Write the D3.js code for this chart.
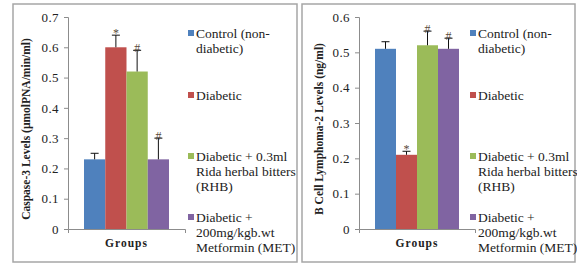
<!DOCTYPE html>
<html>
<head>
<meta charset="utf-8">
<script src="https://cdn.jsdelivr.net/npm/d3@7"></script>
<style>
  body { margin: 0; background: #fff; }
</style>
</head>
<body>
<div id="chart"></div>
<script>
const width = 577;
const height = 268;
const serif = "Liberation Serif";

// groups (legend entries, already wrapped the way the picture does it)
const groups = ["Control", "Diabetic", "RHB", "MET"];
const legendLines = [
  ["Control (non-", "diabetic)"],
  ["Diabetic"],
  ["Diabetic + 0.3ml", "Rida herbal bitters", "(RHB)"],
  ["Diabetic +", "200mg/kgb.wt", "Metformin (MET)"]
];
const colors = ["#4f81bd", "#c0504d", "#9bbb59", "#8064a2"];

// caspase-3
const caspase = [0.23, 0.60, 0.52, 0.23];
const caspaseErr = [0.02, 0.04, 0.07, 0.07];
const caspaseMark = ["", "*", "#", "#"];
const caspaseTicks = [0, 0.1, 0.2, 0.3, 0.4, 0.5, 0.6, 0.7];

// bcl-2
const bcl2 = [0.51, 0.21, 0.52, 0.51];
const bcl2Err = [0.02, 0.01, 0.04, 0.03];
const bcl2Mark = ["", "*", "#", "#"];
const bcl2Ticks = [0, 0.1, 0.2, 0.3, 0.4, 0.5, 0.6];

const svg = d3.select("#chart").append("svg")
  .attr("width", width)
  .attr("height", height)
  .attr("font-family", serif);

function drawPanel(p) {
  const g = svg.append("g");

  g.append("rect")
    .attr("x", p.box[0]).attr("y", 4)
    .attr("width", p.box[1] - p.box[0]).attr("height", 258)
    .attr("fill", "none")
    .attr("stroke", "#a6a6a6")
    .attr("stroke-width", 1.5);

  const y = d3.scaleLinear().domain([0, p.max]).range([229, 17]);
  const x = d3.scaleBand().domain(groups)
    .range([p.axisX[0] + p.pad, p.axisX[1] - p.pad]);

  // y axis
  const yAxis = g.append("g")
    .attr("transform", "translate(" + p.axisX[0] + ",0)")
    .call(d3.axisLeft(y).tickValues(p.ticks).tickSize(4).tickPadding(5)
      .tickFormat(d => d === 0 ? "0" : d3.format(".1f")(d)));
  yAxis.select(".domain").attr("stroke", "#8c8c8c");
  yAxis.selectAll(".tick line").attr("stroke", "#8c8c8c");
  yAxis.selectAll(".tick text")
    .attr("font-family", serif)
    .attr("font-size", 13)
    .attr("letter-spacing", "0.4px")
    .attr("fill", "#222");

  // x axis (one category: Groups)
  const xa = d3.scaleBand().domain(["Groups"]).range(p.axisX);
  const xAxis = g.append("g")
    .attr("transform", "translate(0,229)")
    .call(d3.axisBottom(xa).tickSize(0).tickSizeOuter(4).tickPadding(10));
  xAxis.select(".domain").attr("stroke", "#8c8c8c");
  xAxis.selectAll(".tick text")
    .attr("font-family", serif)
    .attr("font-size", 11.5)
    .attr("font-weight", "bold")
    .attr("letter-spacing", "1px")
    .attr("fill", "#222");

  // bars
  g.selectAll(".bar")
    .data(p.values)
    .enter().append("rect")
      .attr("x", (d, i) => x(groups[i]))
      .attr("y", d => y(d))
      .attr("width", x.bandwidth())
      .attr("height", d => y(0) - y(d))
      .attr("fill", (d, i) => colors[i]);

  // error bars (upper only)
  const cx = i => x(groups[i]) + x.bandwidth() / 2;
  g.selectAll(".err")
    .data(p.values)
    .enter().append("line")
      .attr("x1", (d, i) => cx(i)).attr("x2", (d, i) => cx(i))
      .attr("y1", d => y(d))
      .attr("y2", (d, i) => y(d + p.err[i]))
      .attr("stroke", "#111").attr("stroke-width", 1);
  g.selectAll(".cap")
    .data(p.values)
    .enter().append("line")
      .attr("x1", (d, i) => cx(i) - 4).attr("x2", (d, i) => cx(i) + 4)
      .attr("y1", (d, i) => y(d + p.err[i]))
      .attr("y2", (d, i) => y(d + p.err[i]))
      .attr("stroke", "#111").attr("stroke-width", 1);

  // significance marks
  g.selectAll(".mark")
    .data(p.values)
    .enter().append("text")
      .attr("x", (d, i) => cx(i))
      .attr("y", (d, i) => y(d + p.err[i]) + 2)
      .attr("text-anchor", "middle")
      .attr("font-family", serif)
      .attr("font-size", 12)
      .attr("fill", "#5a4a3a")
      .text((d, i) => p.marks[i]);

  // y title
  g.append("text")
    .attr("transform", "translate(" + p.titleX + ",129) rotate(-90)")
    .attr("text-anchor", "middle")
    .attr("font-family", serif)
    .attr("font-size", 11.5)
    .attr("font-weight", "bold")
    .attr("fill", "#222")
    .text(p.title);

  // legend
  const rowY = [33, 95, 156, 217];
  const leg = g.append("g");
  groups.forEach((k, i) => {
    leg.append("rect")
      .attr("x", p.legX).attr("y", rowY[i] - 3)
      .attr("width", 6).attr("height", 6)
      .attr("fill", colors[i]);
    leg.append("text")
      .attr("x", p.legX + 8)
      .attr("y", rowY[i] + 4.5)
      .attr("font-family", serif)
      .attr("font-size", 13.5)
      .attr("fill", "#222")
      .selectAll("tspan")
      .data(legendLines[i])
      .enter().append("tspan")
        .attr("x", p.legX + 8)
        .attr("dy", (d, j) => j === 0 ? 0 : 15.3)
        .text(d => d);
  });
}

drawPanel({
  box: [13, 297],
  axisX: [68, 185],
  pad: 16,
  max: 0.7,
  ticks: caspaseTicks,
  values: caspase,
  err: caspaseErr,
  marks: caspaseMark,
  title: "Caspase-3 Levels (\u00b5molPNA/min/ml)",
  titleX: 30,
  legX: 188
});

drawPanel({
  box: [302, 575],
  axisX: [359, 475],
  pad: 16,
  max: 0.6,
  ticks: bcl2Ticks,
  values: bcl2,
  err: bcl2Err,
  marks: bcl2Mark,
  title: "B Cell Lymphoma-2  Levels (ng/ml)",
  titleX: 323,
  legX: 470
});
</script>
</body>
</html>
